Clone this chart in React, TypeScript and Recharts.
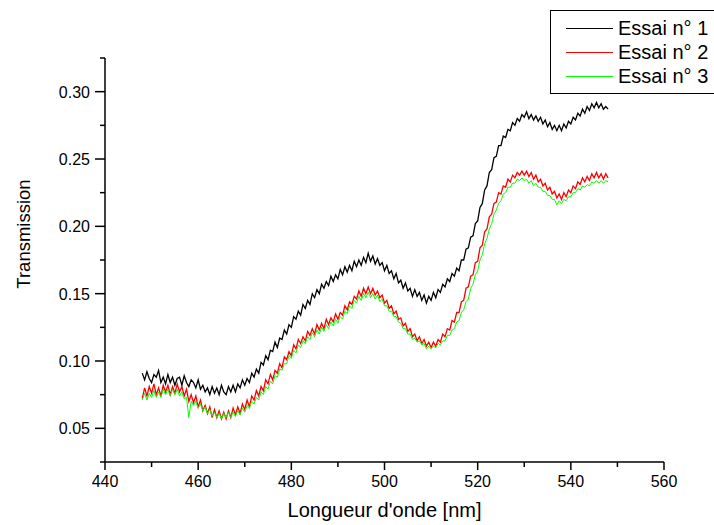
import React from 'react'
import { LineChart, Line, XAxis, YAxis, Legend } from 'recharts'

// wavelength grid [nm], 0.5 nm step
const wavelengths = [
  448, 448.5, 449, 449.5, 450, 450.5, 451, 451.5, 452, 452.5, 453, 453.5, 454, 454.5, 455, 455.5, 456, 456.5, 457, 457.5,
  458, 458.5, 459, 459.5, 460, 460.5, 461, 461.5, 462, 462.5, 463, 463.5, 464, 464.5, 465, 465.5, 466, 466.5, 467, 467.5,
  468, 468.5, 469, 469.5, 470, 470.5, 471, 471.5, 472, 472.5, 473, 473.5, 474, 474.5, 475, 475.5, 476, 476.5, 477, 477.5,
  478, 478.5, 479, 479.5, 480, 480.5, 481, 481.5, 482, 482.5, 483, 483.5, 484, 484.5, 485, 485.5, 486, 486.5, 487, 487.5,
  488, 488.5, 489, 489.5, 490, 490.5, 491, 491.5, 492, 492.5, 493, 493.5, 494, 494.5, 495, 495.5, 496, 496.5, 497, 497.5,
  498, 498.5, 499, 499.5, 500, 500.5, 501, 501.5, 502, 502.5, 503, 503.5, 504, 504.5, 505, 505.5, 506, 506.5, 507, 507.5,
  508, 508.5, 509, 509.5, 510, 510.5, 511, 511.5, 512, 512.5, 513, 513.5, 514, 514.5, 515, 515.5, 516, 516.5, 517, 517.5,
  518, 518.5, 519, 519.5, 520, 520.5, 521, 521.5, 522, 522.5, 523, 523.5, 524, 524.5, 525, 525.5, 526, 526.5, 527, 527.5,
  528, 528.5, 529, 529.5, 530, 530.5, 531, 531.5, 532, 532.5, 533, 533.5, 534, 534.5, 535, 535.5, 536, 536.5, 537, 537.5,
  538, 538.5, 539, 539.5, 540, 540.5, 541, 541.5, 542, 542.5, 543, 543.5, 544, 544.5, 545, 545.5, 546, 546.5, 547, 547.5,
  548,
]

// Essai n° 1 (black)
const essai1 = [
  0.091, 0.086, 0.092, 0.087, 0.084, 0.090, 0.088, 0.093, 0.084, 0.088, 0.083, 0.090, 0.084, 0.088, 0.082, 0.087, 0.088, 0.082, 0.089, 0.084,
  0.081, 0.086, 0.084, 0.080, 0.086, 0.079, 0.082, 0.077, 0.080, 0.075, 0.081, 0.076, 0.080, 0.075, 0.082, 0.077, 0.075, 0.081, 0.077, 0.082,
  0.077, 0.083, 0.080, 0.086, 0.082, 0.087, 0.084, 0.091, 0.088, 0.094, 0.091, 0.099, 0.097, 0.104, 0.101, 0.108, 0.107, 0.114, 0.110, 0.117,
  0.116, 0.123, 0.120, 0.127, 0.125, 0.133, 0.131, 0.137, 0.134, 0.142, 0.139, 0.145, 0.142, 0.150, 0.147, 0.153, 0.150, 0.157, 0.154, 0.159,
  0.156, 0.163, 0.159, 0.164, 0.161, 0.168, 0.164, 0.170, 0.166, 0.171, 0.167, 0.174, 0.170, 0.175, 0.171, 0.177, 0.173, 0.180, 0.174, 0.178,
  0.172, 0.176, 0.171, 0.173, 0.167, 0.171, 0.165, 0.167, 0.161, 0.165, 0.158, 0.160, 0.154, 0.158, 0.152, 0.154, 0.148, 0.153, 0.148, 0.151,
  0.145, 0.149, 0.143, 0.148, 0.145, 0.151, 0.147, 0.153, 0.151, 0.157, 0.155, 0.161, 0.159, 0.165, 0.163, 0.169, 0.167, 0.175, 0.175, 0.183,
  0.184, 0.192, 0.193, 0.202, 0.204, 0.214, 0.217, 0.227, 0.230, 0.240, 0.242, 0.251, 0.252, 0.260, 0.260, 0.267, 0.266, 0.272, 0.271, 0.277,
  0.275, 0.280, 0.278, 0.283, 0.281, 0.285, 0.280, 0.283, 0.279, 0.282, 0.278, 0.281, 0.276, 0.279, 0.274, 0.277, 0.272, 0.275, 0.271, 0.275,
  0.271, 0.276, 0.273, 0.278, 0.276, 0.281, 0.279, 0.284, 0.282, 0.287, 0.284, 0.289, 0.286, 0.291, 0.288, 0.292, 0.288, 0.291, 0.287, 0.289,
  0.287,
]

// Essai n° 2 (red)
const essai2 = [
  0.072, 0.080, 0.074, 0.081, 0.076, 0.083, 0.075, 0.080, 0.074, 0.082, 0.077, 0.082, 0.075, 0.081, 0.076, 0.083, 0.077, 0.081, 0.074, 0.079,
  0.070, 0.075, 0.069, 0.074, 0.066, 0.071, 0.063, 0.067, 0.061, 0.066, 0.058, 0.064, 0.058, 0.063, 0.057, 0.062, 0.057, 0.063, 0.058, 0.065,
  0.060, 0.066, 0.061, 0.068, 0.064, 0.071, 0.066, 0.074, 0.071, 0.078, 0.074, 0.081, 0.078, 0.086, 0.083, 0.090, 0.086, 0.093, 0.091, 0.098,
  0.095, 0.103, 0.101, 0.107, 0.104, 0.112, 0.109, 0.116, 0.113, 0.118, 0.115, 0.122, 0.119, 0.124, 0.120, 0.127, 0.123, 0.128, 0.124, 0.131,
  0.127, 0.132, 0.129, 0.135, 0.131, 0.136, 0.134, 0.141, 0.138, 0.144, 0.142, 0.148, 0.146, 0.152, 0.148, 0.154, 0.150, 0.155, 0.150, 0.154,
  0.149, 0.152, 0.147, 0.149, 0.143, 0.145, 0.139, 0.141, 0.135, 0.137, 0.131, 0.132, 0.126, 0.128, 0.122, 0.124, 0.118, 0.120, 0.115, 0.118,
  0.113, 0.116, 0.111, 0.114, 0.110, 0.114, 0.111, 0.116, 0.114, 0.120, 0.118, 0.124, 0.123, 0.130, 0.129, 0.136, 0.136, 0.144, 0.145, 0.154,
  0.155, 0.163, 0.164, 0.173, 0.174, 0.184, 0.186, 0.196, 0.198, 0.207, 0.209, 0.217, 0.218, 0.225, 0.224, 0.230, 0.229, 0.235, 0.233, 0.238,
  0.236, 0.240, 0.238, 0.241, 0.238, 0.241, 0.237, 0.240, 0.235, 0.238, 0.233, 0.235, 0.230, 0.232, 0.227, 0.229, 0.224, 0.226, 0.221, 0.224,
  0.220, 0.225, 0.222, 0.227, 0.225, 0.230, 0.228, 0.233, 0.231, 0.236, 0.233, 0.237, 0.234, 0.239, 0.236, 0.240, 0.236, 0.239, 0.235, 0.239,
  0.236,
]

// Essai n° 3 (green)
const essai3 = [
  0.071, 0.076, 0.071, 0.076, 0.073, 0.078, 0.073, 0.077, 0.073, 0.079, 0.075, 0.079, 0.074, 0.079, 0.075, 0.079, 0.074, 0.077, 0.072, 0.073,
  0.058, 0.070, 0.067, 0.070, 0.065, 0.068, 0.063, 0.066, 0.061, 0.064, 0.059, 0.062, 0.058, 0.061, 0.057, 0.061, 0.058, 0.062, 0.058, 0.062,
  0.059, 0.063, 0.060, 0.065, 0.062, 0.067, 0.065, 0.070, 0.068, 0.073, 0.071, 0.077, 0.075, 0.081, 0.079, 0.085, 0.083, 0.089, 0.088, 0.094,
  0.093, 0.098, 0.098, 0.104, 0.102, 0.108, 0.106, 0.112, 0.110, 0.115, 0.113, 0.118, 0.116, 0.121, 0.118, 0.123, 0.120, 0.125, 0.122, 0.127,
  0.124, 0.129, 0.126, 0.131, 0.128, 0.133, 0.131, 0.137, 0.135, 0.141, 0.139, 0.145, 0.143, 0.148, 0.145, 0.150, 0.147, 0.151, 0.147, 0.150,
  0.146, 0.149, 0.144, 0.146, 0.141, 0.141, 0.137, 0.137, 0.133, 0.133, 0.129, 0.128, 0.124, 0.124, 0.120, 0.120, 0.116, 0.117, 0.114, 0.115,
  0.112, 0.113, 0.109, 0.111, 0.109, 0.111, 0.110, 0.113, 0.112, 0.115, 0.115, 0.119, 0.119, 0.123, 0.124, 0.129, 0.130, 0.136, 0.138, 0.144,
  0.146, 0.154, 0.157, 0.164, 0.167, 0.175, 0.179, 0.187, 0.191, 0.198, 0.202, 0.209, 0.212, 0.217, 0.219, 0.224, 0.225, 0.229, 0.229, 0.232,
  0.232, 0.235, 0.234, 0.236, 0.234, 0.235, 0.232, 0.234, 0.230, 0.232, 0.229, 0.229, 0.226, 0.226, 0.223, 0.223, 0.220, 0.220, 0.216, 0.219,
  0.217, 0.220, 0.219, 0.222, 0.222, 0.225, 0.225, 0.228, 0.227, 0.230, 0.229, 0.231, 0.230, 0.233, 0.232, 0.234, 0.232, 0.234, 0.232, 0.234,
  0.233,
]

const xTicks = [440, 450, 460, 470, 480, 490, 500, 510, 520, 530, 540, 550, 560]
const xLabels = [440, 460, 480, 500, 520, 540, 560]
const yTicks = [0.025, 0.05, 0.075, 0.1, 0.125, 0.15, 0.175, 0.2, 0.225, 0.25, 0.275, 0.3, 0.325]
const yLabels = [0.05, 0.1, 0.15, 0.2, 0.25, 0.3]

const seriesKeys = ['e1', 'e2', 'e3']
const seriesNames = ['Essai n° 1', 'Essai n° 2', 'Essai n° 3']
const seriesColors = ['#000000', '#ff0000', '#00ff00']
const seriesWidths = [1.3, 1.3, 1]

const data = wavelengths.map((wl, i) => ({ wl, e1: essai1[i], e2: essai2[i], e3: essai3[i] }))

const FONT = '"Liberation Sans", Arial, sans-serif'

const XTick = ({ x, y, payload }: any) => {
  const major = xLabels.includes(payload.value)
  return (
    <g>
      <line x1={x} x2={x} y1={y} y2={y + (major ? 8 : 5)} stroke="#000" strokeWidth={1.5} />
      {major && (
        <text x={x} y={y + 25} textAnchor="middle" fontSize={16} fontFamily={FONT} fill="#000">
          {payload.value}
        </text>
      )}
    </g>
  )
}

const YTick = ({ x, y, payload }: any) => {
  const major = yLabels.some((v) => Math.abs(v - payload.value) < 1e-6)
  return (
    <g>
      <line x1={x - (major ? 10 : 5)} x2={x} y1={y} y2={y} stroke="#000" strokeWidth={1.5} />
      {major && (
        <text x={x - 15} y={y + 6} textAnchor="end" fontSize={16} fontFamily={FONT} fill="#000">
          {payload.value.toFixed(2)}
        </text>
      )}
    </g>
  )
}

const renderLegend = () => (
  <div
    style={{
      border: '1px solid #000',
      background: '#fff',
      width: 170,
      height: 84,
      boxSizing: 'border-box',
      paddingTop: 5,
      fontFamily: FONT,
      fontSize: 20,
      color: '#000',
    }}
  >
    {seriesNames.map((name, i) => (
      <div key={name} style={{ display: 'flex', alignItems: 'center', height: 24 }}>
        <svg width={62} height={24} style={{ flex: 'none', display: 'block' }}>
          <line x1={15} x2={62} y1={12.5} y2={12.5} stroke={seriesColors[i]} strokeWidth={1} />
        </svg>
        <span style={{ marginLeft: 5, lineHeight: '24px', whiteSpace: 'nowrap' }}>{name}</span>
      </div>
    ))}
  </div>
)

export default function App() {
  return (
    <div style={{ position: 'absolute', left: 0, top: 0, width: 714, height: 525, background: '#fff', overflow: 'hidden' }}>
      <LineChart width={714} height={525} data={data} margin={{ top: 58, right: 50, left: 0, bottom: 0 }}>
        <XAxis
          dataKey="wl"
          type="number"
          domain={[440, 560]}
          ticks={xTicks}
          interval={0}
          tick={<XTick />}
          tickLine={false}
          tickSize={0}
          tickMargin={0}
          height={63}
          axisLine={{ stroke: '#000', strokeWidth: 1.5 }}
          label={{
            content: ({ viewBox }: any) => (
              <text
                x={viewBox.x + viewBox.width / 2}
                y={viewBox.y + 55}
                textAnchor="middle"
                fontSize={20}
                fontFamily={FONT}
                fill="#000"
              >
                Longueur d'onde [nm]
              </text>
            ),
          }}
        />
        <YAxis
          type="number"
          domain={[0.025, 0.325]}
          ticks={yTicks}
          interval={0}
          allowDataOverflow
          tick={<YTick />}
          tickLine={false}
          tickSize={0}
          tickMargin={0}
          width={105}
          axisLine={{ stroke: '#000', strokeWidth: 1.5 }}
          label={{
            content: () => {
              const cx = 30
              const cy = 234
              return (
                <text
                  x={cx}
                  y={cy}
                  transform={`rotate(-90 ${cx} ${cy})`}
                  textAnchor="middle"
                  fontSize={18.5}
                  fontFamily={FONT}
                  fill="#000"
                >
                  Transmission
                </text>
              )
            },
          }}
        />
        <Legend
          layout="vertical"
          align="center"
          verticalAlign="middle"
          content={renderLegend}
          wrapperStyle={{ position: 'absolute', left: 550, top: 10, width: 170, height: 84 }}
        />
        {seriesKeys.map((k, i) => (
          <Line
            key={k}
            dataKey={k}
            name={seriesNames[i]}
            stroke={seriesColors[i]}
            strokeWidth={seriesWidths[i]}
            dot={false}
            activeDot={false}
            type="linear"
            isAnimationActive={false}
          />
        ))}
      </LineChart>
    </div>
  )
}
